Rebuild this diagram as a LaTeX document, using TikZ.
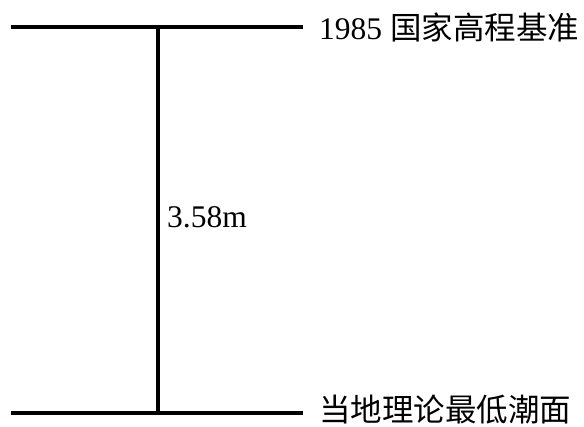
\documentclass[tikz,border=0pt]{standalone}
\usepackage{fontspec}
\setmainfont{Liberation Serif}
\newfontfamily\cjk{Noto Sans CJK SC}
\usetikzlibrary{positioning}

\begin{document}
\begin{tikzpicture}[x=1pt,y=-1pt,
  level/.style={line width=4pt},
  every node/.style={inner sep=0pt, font=\fontsize{31.5}{31.5}\selectfont}]
  \useasboundingbox (0,0) rectangle (584,427);
  \coordinate (topL) at (11,27);
  \coordinate (topR) at (303,27);
  \coordinate (botL) at (11,413);
  \coordinate (botR) at (303,413);
  \coordinate (topM) at (158,27);
  \coordinate (botM) at (158,413);
  \draw[level] (topL) -- (topR);
  \draw[level] (botL) -- (botR);
  \draw[level] (topM) -- (botM);
  \node[anchor=west] (datum) at (319,27) {1985 {\cjk 国家高程基准}};
  \node[anchor=west] (tide) at (319,410) {\cjk 当地理论最低潮面};
  \node[anchor=west] (height) at (167,217) {3.58m};
\end{tikzpicture}
\end{document}
